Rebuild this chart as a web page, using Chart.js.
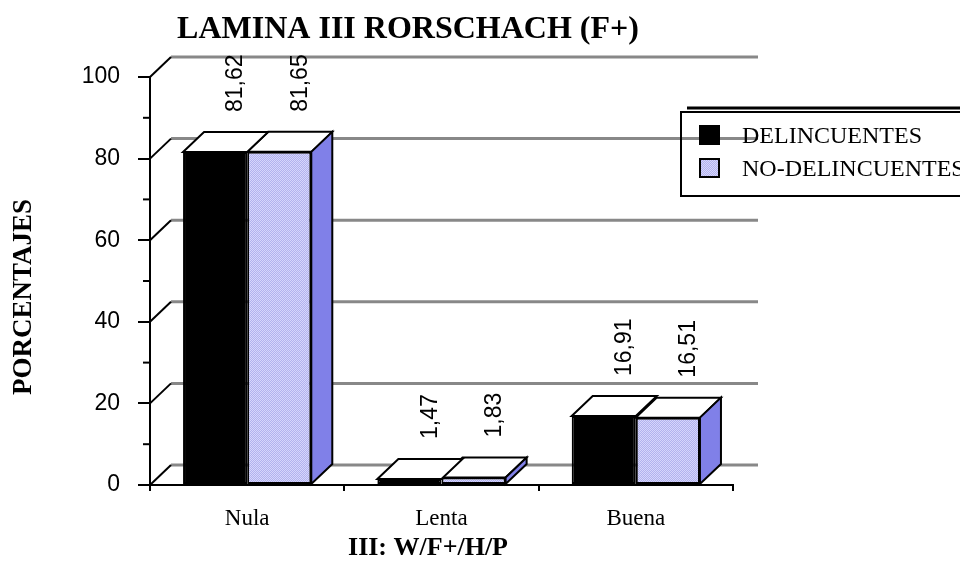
<!DOCTYPE html>
<html>
<head>
<meta charset="utf-8">
<script src="https://cdn.jsdelivr.net/npm/chart.js@4/dist/chart.umd.min.js"></script>
<style>
  html, body { margin: 0; padding: 0; background: #fff; }
  #wrap { width: 960px; height: 569px; position: relative; }
</style>
</head>
<body>
<div id="wrap"><canvas id="grafico"></canvas></div>
<script>
// ---- datos ----
const categorias = ['Nula', 'Lenta', 'Buena'];
const delincuentes = [81.62, 1.47, 16.91];
const noDelincuentes = [81.65, 1.83, 16.51];
const nombresSeries = ['DELINCUENTES', 'NO-DELINCUENTES'];
const ticksY = [0, 20, 40, 60, 80, 100];
const ticksMenoresY = [10, 30, 50, 70, 90];

const titulo = 'LAMINA III RORSCHACH (F+)';
const tituloX = 'III: W/F+/H/P';
const tituloY = 'PORCENTAJES';

// profundidad del efecto 3D
const DX = 21, DY = -20;
const SERIF = "'Liberation Serif', 'Times New Roman', serif";
const SANS = "'Liberation Sans', Arial, sans-serif";

// trama azul clara (imita el tramado de Excel)
function tramaAzul() {
    const c = document.createElement('canvas');
    c.width = 2; c.height = 2;
    const g = c.getContext('2d');
    g.fillStyle = '#d6d6fc'; g.fillRect(0, 0, 2, 2);
    g.fillStyle = '#b2b2ee'; g.fillRect(1, 0, 1, 1); g.fillRect(0, 1, 1, 1);
    return g.createPattern(c, 'repeat');
}
const azul = tramaAzul();
// cara lateral: solo se ve la de la serie de delante (la negra queda tapada)
const lados = [null, '#8080e8'];

function linea(ctx, x1, y1, x2, y2) {
    ctx.beginPath(); ctx.moveTo(x1, y1); ctx.lineTo(x2, y2); ctx.stroke();
}
function poligono(ctx, pts, relleno) {
    ctx.beginPath();
    ctx.moveTo(pts[0][0], pts[0][1]);
    for (let i = 1; i < pts.length; i++) ctx.lineTo(pts[i][0], pts[i][1]);
    ctx.closePath();
    ctx.fillStyle = relleno; ctx.fill();
    ctx.lineWidth = 2; ctx.strokeStyle = '#000'; ctx.stroke();
}
const coma = v => v.toFixed(2).replace('.', ',');

const efecto3D = {
    id: 'efecto3D',
    beforeDatasetsDraw(chart) {
        const { ctx, chartArea: a, scales: { y } } = chart;
        ctx.save();
        // pared del fondo
        ctx.strokeStyle = '#888888'; ctx.lineWidth = 3;
        ticksY.forEach(v => {
            const py = y.getPixelForValue(v) + DY;
            linea(ctx, a.left + DX, py, 758, py);
        });
        // diagonales del lateral izquierdo
        ctx.strokeStyle = '#000'; ctx.lineWidth = 2;
        ticksY.forEach(v => {
            const py = y.getPixelForValue(v);
            linea(ctx, a.left, py, a.left + DX, py + DY);
        });
        // marcas menores
        ticksMenoresY.forEach(v => {
            const py = y.getPixelForValue(v);
            linea(ctx, a.left - 7, py, a.left, py);
        });
        ctx.restore();
    },
    afterDatasetDraw(chart, args) {
        const ctx = chart.ctx;
        ctx.save();
        ctx.lineJoin = 'miter';
        args.meta.data.forEach(bar => {
            const { x, y, width, base } = bar.getProps(['x', 'y', 'width', 'base'], true);
            const l = x - width / 2, r = x + width / 2;
            poligono(ctx, [[l, y], [l + DX, y + DY], [r + DX, y + DY], [r, y]], '#ffffff');
            if (lados[args.index]) {
                poligono(ctx, [[r, y], [r + DX, y + DY], [r + DX, base + DY], [r, base]], lados[args.index]);
            }
        });
        ctx.restore();
    },
    afterDatasetsDraw(chart) {
        const ctx = chart.ctx;
        ctx.save();
        ctx.fillStyle = '#000';
        ctx.font = '23px ' + SANS;
        ctx.textAlign = 'left';
        ctx.textBaseline = 'middle';
        chart.data.datasets.forEach((ds, i) => {
            chart.getDatasetMeta(i).data.forEach((bar, j) => {
                const { x, y } = bar.getProps(['x', 'y'], true);
                ctx.save();
                ctx.translate(x + DX, y + DY - 20);
                ctx.rotate(-Math.PI / 2);
                ctx.fillText(coma(ds.data[j]), 0, 0);
                ctx.restore();
            });
        });
        ctx.restore();
    },
    afterDraw(chart) {
        const ctx = chart.ctx;
        ctx.save();
        ctx.fillStyle = '#000';
        // títulos
        ctx.textAlign = 'center';
        ctx.textBaseline = 'alphabetic';
        ctx.font = 'bold 32px ' + SERIF;
        ctx.fillText(titulo, 408, 38);
        ctx.textBaseline = 'middle';
        ctx.font = 'bold 26px ' + SERIF;
        ctx.fillText(tituloX, 428, 548);
        ctx.save();
        ctx.translate(24, 297);
        ctx.rotate(-Math.PI / 2);
        ctx.font = 'bold 27px ' + SERIF;
        ctx.fillText(tituloY, 0, 0);
        ctx.restore();

        // leyenda
        ctx.strokeStyle = '#000';
        ctx.lineWidth = 3;
        linea(ctx, 687, 108, 960, 108);
        ctx.lineWidth = 2;
        ctx.strokeRect(681, 112, 300, 84);
        ctx.fillStyle = '#000';
        ctx.fillRect(699, 125, 21, 20);
        ctx.fillStyle = azul;
        ctx.fillRect(700, 159, 19, 18);
        ctx.strokeRect(700, 159, 19, 18);
        ctx.fillStyle = '#000';
        ctx.font = '24px ' + SERIF;
        ctx.textAlign = 'left';
        ctx.textBaseline = 'alphabetic';
        chart.data.datasets.forEach((ds, i) => {
            ctx.fillText(ds.label, 742, 143 + i * 33);
        });
        ctx.restore();
    }
};

new Chart(document.getElementById('grafico'), {
    type: 'bar',
    data: {
        labels: categorias,
        datasets: [
            { label: nombresSeries[0], data: delincuentes, backgroundColor: '#000000',
              borderColor: '#000', borderWidth: 2, borderSkipped: false },
            { label: nombresSeries[1], data: noDelincuentes, backgroundColor: azul,
              borderColor: '#000', borderWidth: 2, borderSkipped: false }
        ]
    },
    options: {
        responsive: true,
        maintainAspectRatio: false,
        animation: false,
        devicePixelRatio: 1,
        categoryPercentage: 0.66,
        barPercentage: 1.0,
        layout: { padding: { top: 77, right: 227, bottom: 0, left: 0 } },
        plugins: { legend: { display: false }, title: { display: false }, tooltip: { enabled: false } },
        scales: {
            x: {
                afterFit: s => { s.height = 84; },
                grid: { display: true, drawOnChartArea: false, drawTicks: true, tickLength: 6,
                        color: '#000', lineWidth: 2, offset: true },
                border: { display: true, color: '#000', width: 2 },
                ticks: { color: '#000', font: { family: SERIF, size: 23 }, padding: 14, maxRotation: 0 }
            },
            y: {
                min: 0, max: 100,
                afterFit: s => { s.width = 150; },
                grid: { display: true, drawOnChartArea: false, drawTicks: true, tickLength: 12,
                        color: '#000', lineWidth: 2 },
                border: { display: true, color: '#000', width: 2 },
                ticks: { stepSize: 20, color: '#000', font: { family: SANS, size: 23 }, padding: 18 }
            }
        }
    },
    plugins: [efecto3D]
});
</script>
</body>
</html>
